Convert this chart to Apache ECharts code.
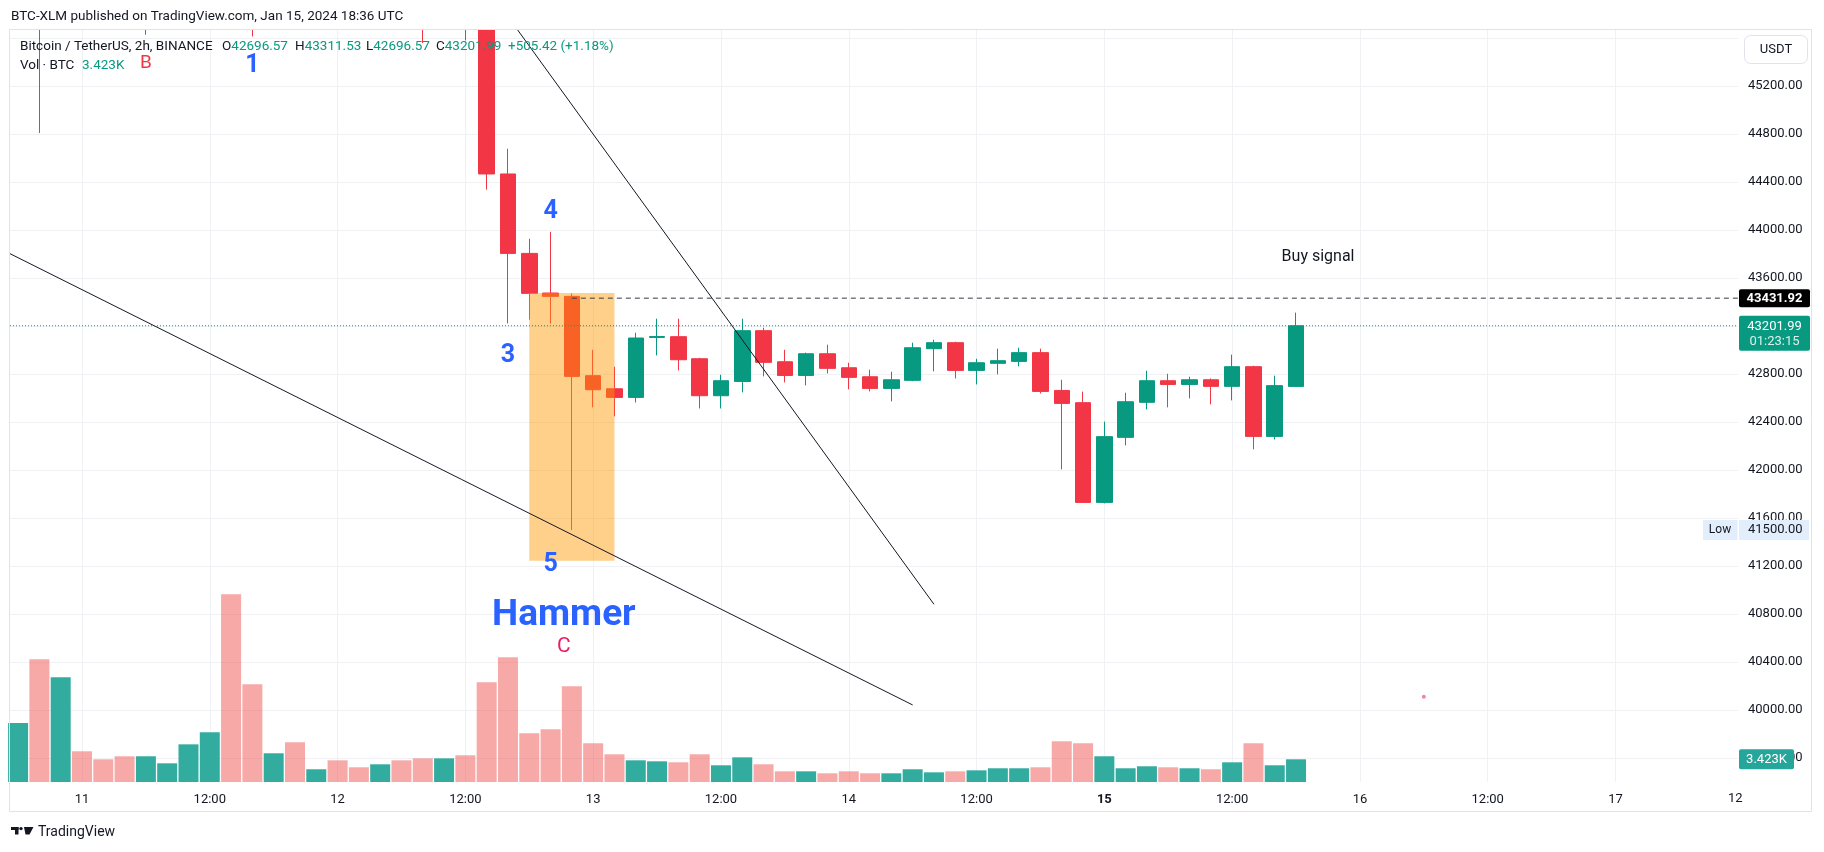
<!DOCTYPE html>
<html><head><meta charset="utf-8">
<script src="https://cdn.jsdelivr.net/npm/echarts@6/dist/echarts.min.js"></script>
<style>html,body{margin:0;padding:0;background:#fff;}#c{width:1824px;height:852px;}</style>
</head><body><div id="c"></div>
<script>
// ---------------- DATA ----------------
// 2h bars, first bar = 2024-01-10 18:00 UTC
const firstBarTime = '2024-01-10T18:00:00Z';
const opens  = [45900,46100,45800,46650,46300,46000,45850,46300,46600,47300,48300,47000,46200,46500,46000,46340,46100,46000,46250,46050,45800,46350,45900,44467,43805,43475,43447,42786,42677,42605,43105,43111,42927,42619,42738,43161,42902,42788,42969,42852,42777,42680,42747,43011,43061,42830,42889,42905,42978,42663,42561,41730,42272,42564,42744,42713,42752,42697,42861,42280,42696.57];
const highs  = [46300,46500,47700,47000,46500,46250,46400,46700,47400,48600,48970,47200,46700,46650,46400,46500,46300,46350,46400,46200,46500,46500,46100,44677,43927,43985,43470,43002,42861,43144,43261,43261,42935,42794,43261,43186,43002,42978,43044,42894,42836,42819,43061,43086,43069,42927,43011,43019,43011,42752,42653,42403,42644,42828,42802,42777,42763,42961,42869,42786,43311.53];
const lows   = [45720,44808,45700,46100,45900,45750,45627,46150,46500,47100,46600,45613,45900,45700,45850,45900,45800,45850,45900,45558,45700,45580,44336,43222,43253,43220,41500,42522,42447,42563,42955,42830,42513,42513,42647,42780,42730,42705,42805,42672,42655,42572,42740,42822,42763,42713,42797,42863,42638,42005,41728,41722,42205,42505,42522,42597,42547,42580,42172,42255,42696.57];
const closes = [46100,45800,46650,46300,46000,45850,46300,46600,47300,48300,47000,46200,46500,46000,46340,46100,46000,46250,46050,45800,46350,45900,44467,43805,43472,43447,42780,42669,42605,43100,43112,42919,42619,42744,43161,42897,42788,42969,42847,42772,42680,42752,43019,43061,42830,42894,42911,42978,42655,42555,41730,42278,42569,42744,42713,42752,42697,42861,42280,42703,43201.99];
const volumesK = [8.90,18.50,15.79,4.63,3.42,3.88,3.88,2.82,5.68,7.49,28.30,14.73,4.33,5.99,1.92,3.27,2.22,2.67,3.27,3.57,3.57,4.03,15.03,18.80,7.34,7.95,14.43,5.84,4.18,3.27,3.12,2.97,4.18,2.52,3.72,2.67,1.61,1.61,1.31,1.61,1.31,1.31,1.92,1.46,1.61,1.76,2.07,2.07,2.22,6.14,5.84,3.88,2.07,2.37,2.22,2.07,1.92,2.97,5.84,2.52,3.423];

const priceGridTicks = [39600,40000,40400,40800,41200,41600,42000,42400,42800,43200,43600,44000,44400,44800,45200,45600];
const priceLabelTicks = [39600,40000,40400,40800,41200,41600,42000,42400,42800,43200,43600,44000,44400,44800,45200];
const timeTicks = ['2024-01-11T00:00:00Z','2024-01-11T12:00:00Z','2024-01-12T00:00:00Z','2024-01-12T12:00:00Z','2024-01-13T00:00:00Z','2024-01-13T12:00:00Z','2024-01-14T00:00:00Z','2024-01-14T12:00:00Z','2024-01-15T00:00:00Z','2024-01-15T12:00:00Z','2024-01-16T00:00:00Z','2024-01-16T12:00:00Z','2024-01-17T00:00:00Z'];

// drawings: [time, price]
const trendLineA = [['2024-01-10T17:14:00Z', 43803], ['2024-01-14T06:00:00Z', 40042]];
const trendLineB = [['2024-01-12T14:52:00Z', 45917], ['2024-01-14T08:00:00Z', 40881]];
const breakLevel = 43431.92;         // dashed line, from Jan 12 22:00
const breakStart = '2024-01-12T22:00:00Z';
const lastPrice = 43201.99;
const lastVolumeLabel = '3.423K';
const lowPrice = 41500.00;
const hammerBox = ['2024-01-12T18:00:00Z', 43475, '2024-01-13T02:00:00Z', 41244];
const notes = [
  ['B', '2024-01-11T06:00:00Z', 45386],
  ['1', '2024-01-11T16:00:00Z', 45367],
  ['4', '2024-01-12T20:00:00Z', 44152],
  ['3', '2024-01-12T16:00:00Z', 42948],
  ['5', '2024-01-12T20:00:00Z', 41208],
  ['Hammer', '2024-01-12T21:15:00Z', 40783],
  ['C', '2024-01-12T21:15:00Z', 40525],
  ['Buy signal', '2024-01-15T20:04:00Z', 43775]
];
const dotMark = ['2024-01-16T06:00:00Z', 40111];

// ---------------- CHART ----------------
const UP = '#089981', DOWN = '#F23645', TXT = '#131722', FONT = 'Roboto, "Liberation Sans", sans-serif';
const HOUR = 3600000;
const t0 = Date.parse(firstBarTime);
const day11 = Date.parse('2024-01-11T00:00:00Z');
const xMin = day11 - 6.76 * HOUR, xMax = day11 + 155.5 * HOUR;

const candleData = opens.map((o, i) => [t0 + i * 2 * HOUR, o, closes[i], lows[i], highs[i]]);
const volData = volumesK.map((v, i) => ({
  value: [t0 + i * 2 * HOUR, v],
  itemStyle: { color: closes[i] >= opens[i] ? 'rgb(51,172,160)' : 'rgba(239,83,80,0.5)' }
}));

const noteStyles = {
  'B': { color: '#F23645', fontSize: 19, fontWeight: 'normal' },
  '1': { color: '#2962FF', fontSize: 25, fontWeight: 'bold' },
  '4': { color: '#2962FF', fontSize: 25, fontWeight: 'bold' },
  '3': { color: '#2962FF', fontSize: 25, fontWeight: 'bold' },
  '5': { color: '#2962FF', fontSize: 25, fontWeight: 'bold' },
  'Hammer': { color: '#2962FF', fontSize: 37, fontWeight: 'bold' },
  'C': { color: '#E91E63', fontSize: 21, fontWeight: 'normal' },
  'Buy signal': { color: TXT, fontSize: 16, fontWeight: 'normal' }
};

const chart = echarts.init(document.getElementById('c'), null, { renderer: 'canvas' });

function fmtTime(v) {
  const d = new Date(v);
  const h = d.getUTCHours();
  if (h === 0) { const day = d.getUTCDate(); return day === 15 ? '{b|15}' : String(day); }
  return String(h).padStart(2, '0') + ':' + String(d.getUTCMinutes()).padStart(2, '0');
}

const timeTickValues = timeTicks.map(Date.parse);
const option = {
  animation: false,
  backgroundColor: '#ffffff',
  textStyle: { fontFamily: FONT },
  grid: [{ left: 10, right: 86, top: 30, bottom: 70, outerBoundsMode: 'none', containLabel: false }],
  xAxis: [{
    type: 'value', min: xMin, max: xMax, scale: true,
    axisLine: { show: false }, axisTick: { show: false, customValues: timeTickValues },
    axisLabel: { customValues: timeTickValues, formatter: fmtTime, color: TXT, fontSize: 13, margin: 11,
      fontFamily: FONT, hideOverlap: false, showMinLabel: true, showMaxLabel: true,
      rich: { b: { fontWeight: 'bold', fontSize: 13, color: TXT, fontFamily: FONT } } },
    splitLine: { show: true, lineStyle: { color: '#F0F1F4', width: 1 } }
  }],
  yAxis: [{
    type: 'value', position: 'right', min: 39400, max: 45666.67, scale: true,
    axisLine: { show: false }, axisTick: { show: false, customValues: priceGridTicks },
    axisLabel: { customValues: priceLabelTicks, formatter: v => v.toFixed(2), color: TXT, fontSize: 13, margin: 10, fontFamily: FONT, showMinLabel: true, showMaxLabel: true },
    splitLine: { show: true, lineStyle: { color: '#F0F1F4', width: 1 } }
  }, {
    type: 'value', min: 0, max: 113.4, show: false, splitLine: { show: false }
  }],
  series: [
    { type: 'bar', name: 'Vol', xAxisIndex: 0, yAxisIndex: 1, barWidth: 20, data: volData, z: 1, silent: true },
    { type: 'candlestick', name: 'BTCUSDT', xAxisIndex: 0, yAxisIndex: 0, barWidth: 16, data: candleData, z: 2, silent: true, clip: true,
      itemStyle: { color: UP, color0: DOWN, borderColor: UP, borderColor0: DOWN, borderWidth: 1 } },
    { type: 'custom', name: 'box', z: 3, silent: true, data: [[Date.parse(hammerBox[0]), hammerBox[1], Date.parse(hammerBox[2]), hammerBox[3]]],
      renderItem: function (params, api) {
        const p0 = api.coord([api.value(0), api.value(1)]);
        const p1 = api.coord([api.value(2), api.value(3)]);
        return { type: 'rect', shape: { x: p0[0], y: p0[1], width: p1[0] - p0[0], height: p1[1] - p0[1] },
          style: { fill: 'rgba(255,152,0,0.46)' } };
      } },
    { type: 'line', name: 'trendA', z: 4, symbol: 'none', silent: true, clip: true,
      data: trendLineA.map(p => [Date.parse(p[0]), p[1]]), lineStyle: { color: '#131722', width: 1 } },
    { type: 'line', name: 'trendB', z: 4, symbol: 'none', silent: true, clip: true,
      data: trendLineB.map(p => [Date.parse(p[0]), p[1]]), lineStyle: { color: '#131722', width: 1 } },
    { type: 'line', name: 'level', z: 4, symbol: 'none', silent: true, clip: true,
      data: [[Date.parse(breakStart), breakLevel], [xMax, breakLevel]], lineStyle: { color: '#363A45', width: 1, type: [5, 4] } },
    { type: 'line', name: 'last', z: 4, symbol: 'none', silent: true, clip: true,
      data: [[xMin, lastPrice], [xMax, lastPrice]], lineStyle: { color: UP, width: 1, type: [1, 2] } },
    { type: 'scatter', name: 'notes', z: 6, silent: true, symbolSize: 0, itemStyle: { opacity: 0 },
      data: notes.map(n => ({ value: [Date.parse(n[1]), n[2]],
        label: Object.assign({ show: true, position: 'inside', formatter: n[0], fontFamily: FONT, align: 'center', verticalAlign: 'middle',
          textBorderWidth: 0, textBorderColor: 'transparent', textShadowBlur: 0, opacity: 1 }, noteStyles[n[0]]) })) },
    { type: 'scatter', name: 'dot', z: 6, silent: true, symbolSize: 4, itemStyle: { color: '#F06292' },
      data: [[Date.parse(dotMark[0]), dotMark[1]]] }
  ]
};
chart.setOption(option);

// overlay chrome positioned from the axes
const yOf = p => chart.convertToPixel({ yAxisIndex: 0 }, p);
const yVol = v => chart.convertToPixel({ yAxisIndex: 1 }, v);
const yBreak = yOf(breakLevel), yLast = yOf(lastPrice), yLow = yOf(lowPrice), yV = yVol(parseFloat(lastVolumeLabel));
const AX = 1739;
const F = (s, w) => (w ? w + ' ' : '') + s + 'px ' + FONT;
const g = [];
// cover for candles that run above the pane
g.push({ type: 'rect', z: 45, shape: { x: 0, y: 0, width: 1824, height: 29.5 }, style: { fill: '#ffffff' } });
g.push({ type: 'rect', z: 46, shape: { x: 9.5, y: 29.5, width: 1802, height: 782 }, style: { fill: 'none', stroke: '#E0E3EB', lineWidth: 1 } });
g.push({ type: 'text', z: 50, x: 11, y: 17, style: { text: 'BTC-XLM published on TradingView.com, Jan 15, 2024 18:36 UTC', fill: TXT, font: F(13.5), verticalAlign: 'middle' } });
const leg = (x, y, parts) => g.push({ type: 'text', z: 50, x: x, y: y, style: { text: parts.map(p => '{' + p[1] + '|' + p[0] + '}').join(''), verticalAlign: 'middle',
  rich: { d: { fill: TXT, font: F(13.5) }, v: { fill: UP, font: F(13.5) } } } });
leg(20, 47, [['Bitcoin / TetherUS, 2h, BINANCE', 'd']]);
leg(222, 47, [['O', 'd'], [opens[60].toFixed(2), 'v']]);
leg(295, 47, [['H', 'd'], [highs[60].toFixed(2), 'v']]);
leg(366, 47, [['L', 'd'], [lows[60].toFixed(2), 'v']]);
leg(436, 47, [['C', 'd'], [closes[60].toFixed(2), 'v']]);
leg(508, 47, [['+' + (closes[60] - opens[60]).toFixed(2) + ' (+' + ((closes[60] - opens[60]) / opens[60] * 100).toFixed(2) + '%)', 'v']]);
leg(20, 66, [['Vol · BTC', 'd']]);
leg(82, 66, [[lastVolumeLabel, 'v']]);
g.push({ type: 'rect', z: 50, shape: { x: 1744.5, y: 35.5, width: 63, height: 28, r: 6 }, style: { fill: '#fff', stroke: '#E0E3EB', lineWidth: 1 } });
g.push({ type: 'text', z: 51, x: 1776, y: 49.5, style: { text: 'USDT', fill: TXT, font: F(13), align: 'center', verticalAlign: 'middle' } });
g.push({ type: 'rect', z: 50, shape: { x: AX, y: yBreak - 9, width: 71, height: 18, r: 2 }, style: { fill: '#000000' } });
g.push({ type: 'text', z: 51, x: AX + 35.5, y: yBreak + 0.5, style: { text: breakLevel.toFixed(2), fill: '#fff', font: F(13, 'bold'), align: 'center', verticalAlign: 'middle' } });
g.push({ type: 'rect', z: 50, shape: { x: AX, y: yLast - 10, width: 71, height: 35, r: 2 }, style: { fill: UP } });
g.push({ type: 'text', z: 51, x: AX + 35.5, y: yLast + 1, style: { text: lastPrice.toFixed(2), fill: '#fff', font: F(13), align: 'center', verticalAlign: 'middle' } });
g.push({ type: 'text', z: 51, x: AX + 35.5, y: yLast + 16, style: { text: '01:23:15', fill: 'rgba(255,255,255,0.85)', font: F(13), align: 'center', verticalAlign: 'middle' } });
g.push({ type: 'rect', z: 50, shape: { x: 1703, y: yLow - 10, width: 34.5, height: 20 }, style: { fill: '#E3EEFC' } });
g.push({ type: 'text', z: 51, x: 1720, y: yLow, style: { text: 'Low', fill: TXT, font: F(12), align: 'center', verticalAlign: 'middle' } });
g.push({ type: 'rect', z: 50, shape: { x: AX, y: yLow - 10, width: 70, height: 20 }, style: { fill: '#E3EEFC' } });
g.push({ type: 'text', z: 51, x: AX + 9, y: yLow, style: { text: lowPrice.toFixed(2), fill: TXT, font: F(13), verticalAlign: 'middle' } });
g.push({ type: 'rect', z: 50, shape: { x: AX, y: yV - 10, width: 55, height: 20, r: 2 }, style: { fill: '#26A69A' } });
g.push({ type: 'text', z: 51, x: AX + 27.5, y: yV, style: { text: lastVolumeLabel, fill: '#fff', font: F(13), align: 'center', verticalAlign: 'middle' } });
g.push({ type: 'text', z: 50, x: 1728, y: 799, style: { text: '12', fill: TXT, font: F(13), verticalAlign: 'middle' } });
g.push({ type: 'rect', z: 50, shape: { x: 11, y: 827, width: 7.5, height: 3 }, style: { fill: '#131722' } });
g.push({ type: 'rect', z: 50, shape: { x: 15, y: 827, width: 3.5, height: 7.5 }, style: { fill: '#131722' } });
g.push({ type: 'circle', z: 50, shape: { cx: 21, cy: 828.6, r: 1.7 }, style: { fill: '#131722' } });
g.push({ type: 'polygon', z: 50, shape: { points: [[24, 827], [33.5, 827], [29.5, 834.5], [25.5, 834.5]] }, style: { fill: '#131722' } });
g.push({ type: 'text', z: 50, x: 38, y: 832, style: { text: 'TradingView', fill: TXT, font: F(14), verticalAlign: 'middle' } });

chart.setOption({ graphic: g });
</script>
</body></html>
